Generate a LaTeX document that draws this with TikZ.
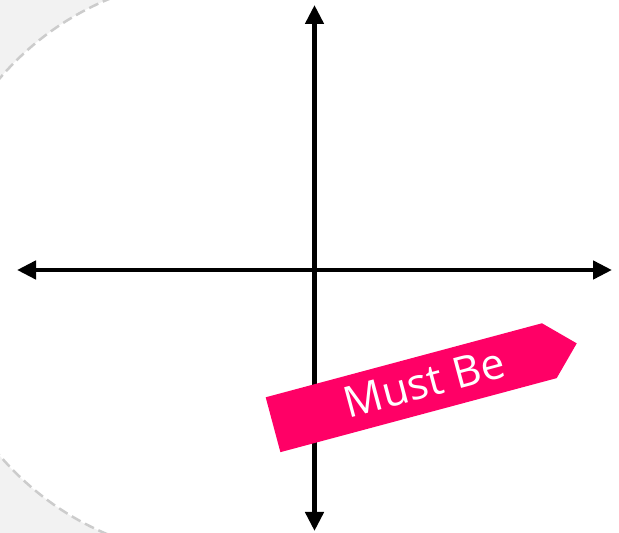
\documentclass[tikz,border=0pt]{standalone}
\usepackage{fontspec}
\setmainfont{Open Sans}
\usetikzlibrary{arrows.meta}
\definecolor{bggrey}{HTML}{F2F2F2}
\definecolor{dashgrey}{HTML}{CCCCCC}
\definecolor{mustpink}{HTML}{FF0066}
\begin{document}
\begin{tikzpicture}[x=1pt,y=1pt,
  axis/.style={line width=4.5pt, {Triangle[length=19pt,width=18pt]}-{Triangle[length=19pt,width=18pt]}},
  rim/.style={dashgrey, line width=2.5pt, dash pattern=on 10pt off 5pt},
  bannertext/.style={anchor=base, text=white, font=\fontsize{43}{46}\selectfont, inner sep=0pt}]
\useasboundingbox (0,0) rectangle (619,533);
\fill[bggrey] (0,0) rectangle (619,533);
\fill[white] (220,266) circle (290);
\fill[white] (220,0) rectangle (619,533);
\draw[rim] (220,266) ++(100:290) arc[start angle=100, end angle=260, radius=290];
\coordinate (top) at (314.5,528);
\coordinate (bot) at (314.5,2);
\coordinate (lft) at (17,263);
\coordinate (rgt) at (612,263);
\draw[axis] (bot) -- (top);
\draw[axis] (lft) -- (rgt);
\begin{scope}[shift={(265.7,135.7)}, rotate=15]
\fill[mustpink] (0,0) -- (286,0) -- (314.4,-28.4) -- (286,-56.8) -- (0,-56.8) -- cycle;
\node[bannertext, rotate=15] (must) at (157,-42) {Must Be};
\end{scope}
\end{tikzpicture}
\end{document}
